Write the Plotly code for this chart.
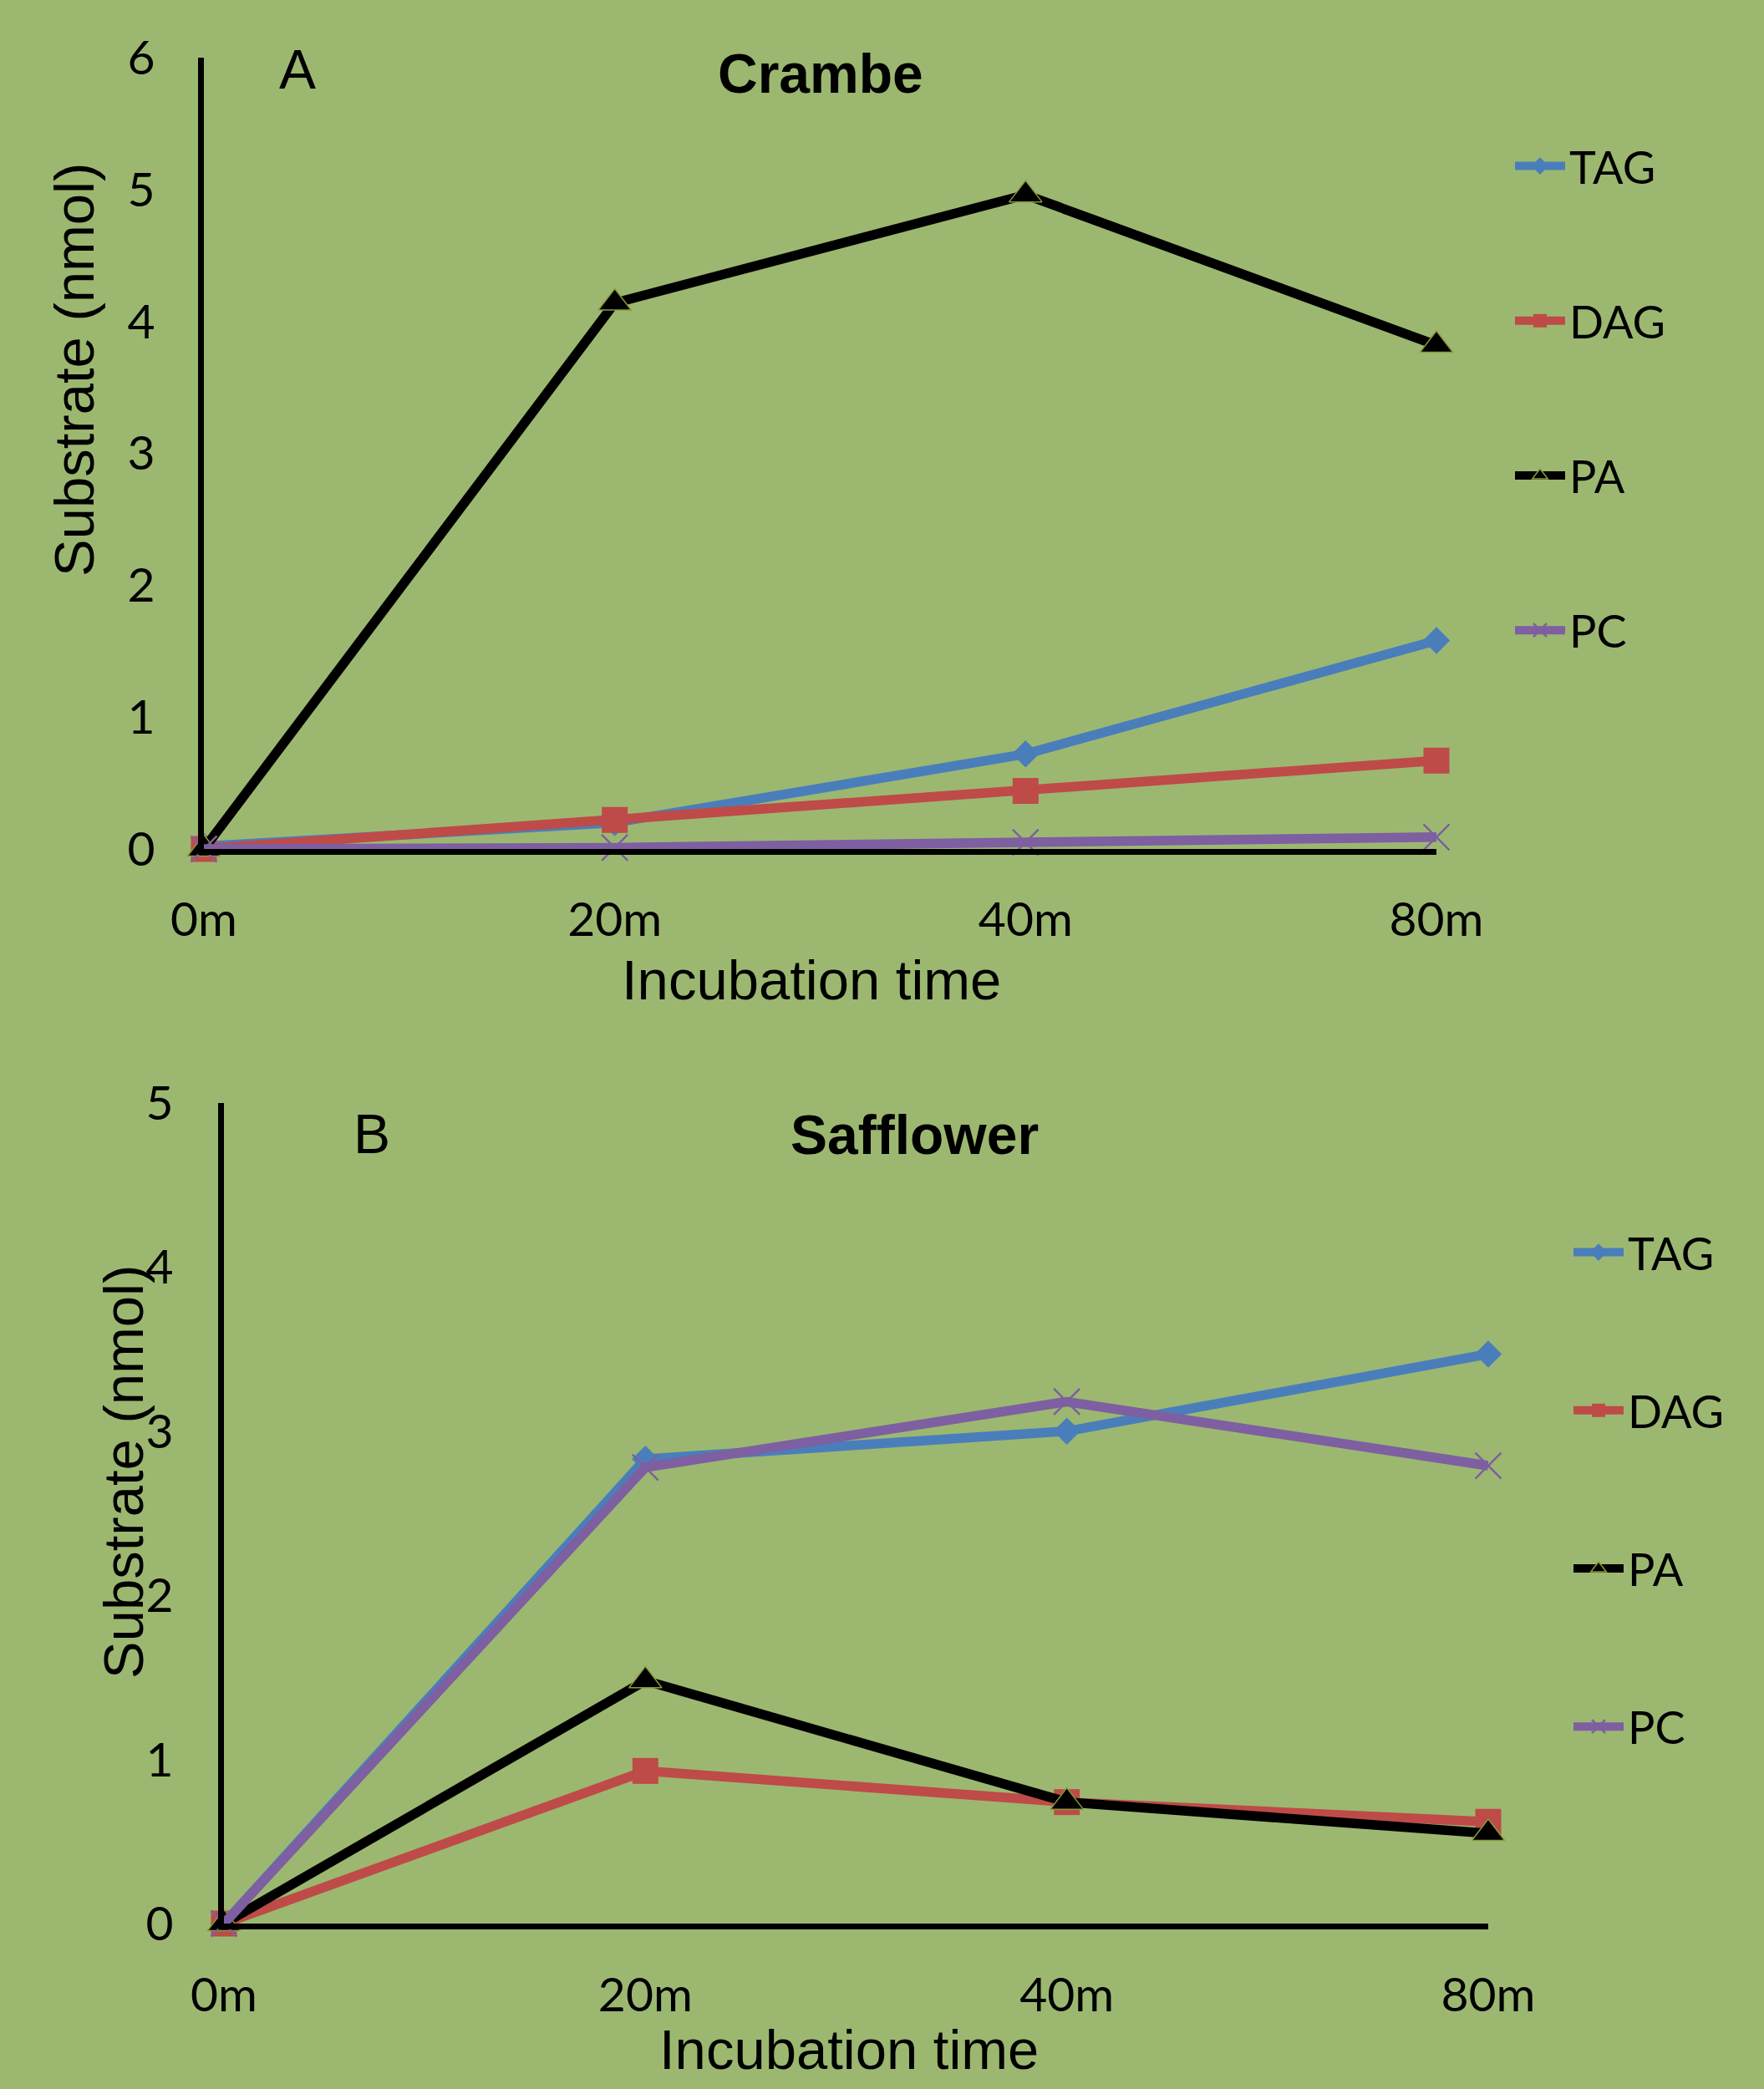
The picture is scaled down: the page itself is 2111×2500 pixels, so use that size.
import plotly.graph_objects as go

# ---- data ----
categories = ["0m", "20m", "40m", "80m"]
series_names = ["TAG", "DAG", "PA", "PC"]

crambe_tag = [0.02, 0.20, 0.72, 1.58]
crambe_dag = [0.00, 0.22, 0.44, 0.67]
crambe_pa = [0.00, 4.14, 4.96, 3.82]
crambe_pc = [0.00, 0.01, 0.05, 0.09]

safflower_tag = [0.00, 2.83, 3.00, 3.47]
safflower_dag = [0.00, 0.93, 0.74, 0.62]
safflower_pa = [0.00, 1.48, 0.74, 0.55]
safflower_pc = [0.00, 2.78, 3.18, 2.79]

yticks_top = [0, 1, 2, 3, 4, 5, 6]
yticks_bottom = [0, 1, 2, 3, 4, 5]

# ---- styles ----
W, H = 2111, 2500
BG = "rgb(156,184,112)"
TICK_FONT = "Lato, 'Open Sans', sans-serif"
ARIAL = "'Liberation Sans', Arial, sans-serif"
colors = {"TAG": "#4A7EBB", "DAG": "#BE4B48", "PA": "#000000", "PC": "#7E5FA1"}
symbols = {"TAG": "diamond", "DAG": "square", "PA": "triangle-up", "PC": "x-thin"}
msizes = {"TAG": 25, "DAG": 31, "PA": 34, "PC": 31}

def px_x(p):
    return p / W

def px_y(p):
    return (H - p) / H

fig = go.Figure()

panels = [
    ("x", "y", "legend", [crambe_tag, crambe_dag, crambe_pa, crambe_pc]),
    ("x2", "y2", "legend2", [safflower_tag, safflower_dag, safflower_pa, safflower_pc]),
]
for xa, ya, lg, vals in panels:
    for name, v in zip(series_names, vals):
        c = colors[name]
        if name == "PC":
            mline = dict(width=2.5, color=c)
        elif name == "PA":
            mline = dict(width=1.5, color="#8a9a3a")
        else:
            mline = dict(width=0, color=c)
        marker = dict(symbol=symbols[name], size=msizes[name], color=c, line=mline)
        fig.add_trace(go.Scatter(
            x=categories, y=v, name=name, mode="lines+markers",
            line=dict(color=c, width=11.5), marker=marker,
            xaxis=xa, yaxis=ya, legend=lg, legendgroup=lg + name,
            cliponaxis=False, showlegend=True,
        ))

axis_common = dict(
    showgrid=False, zeroline=False, showline=True, linecolor="black", linewidth=7,
    ticks="", automargin=False,
    tickfont=dict(family=TICK_FONT, size=57, color="black"),
)

fig.update_layout(
    template="none",
    width=W, height=H, paper_bgcolor=BG, plot_bgcolor=BG,
    margin=dict(l=0, r=0, t=0, b=0, pad=0, autoexpand=False),
    showlegend=True,
    xaxis=dict(domain=[px_x(244), px_x(1719)], anchor="y", type="category",
               categoryorder="array", categoryarray=categories, range=[0, 3],
               ticklabelstandoff=29, **axis_common),
    yaxis=dict(domain=[px_y(1016), px_y(69)], anchor="x", range=[0, 6],
               tickvals=yticks_top, ticklabelstandoff=40, **axis_common),
    xaxis2=dict(domain=[px_x(268), px_x(1781)], anchor="y2", type="category",
                categoryorder="array", categoryarray=categories, range=[0, 3],
                ticklabelstandoff=30, **axis_common),
    yaxis2=dict(domain=[px_y(2302), px_y(1320)], anchor="x2", range=[0, 5],
                tickvals=yticks_bottom, ticklabelstandoff=42, **axis_common),
    legend=dict(x=px_x(1808), y=px_y(157), xanchor="left", yanchor="top",
                bgcolor="rgba(0,0,0,0)", font=dict(family=TICK_FONT, size=54, color="black"),
                tracegroupgap=112, itemwidth=60),
    legend2=dict(x=px_x(1878), y=px_y(1457), xanchor="left", yanchor="top",
                 bgcolor="rgba(0,0,0,0)", font=dict(family=TICK_FONT, size=54, color="black"),
                 tracegroupgap=116, itemwidth=60),
)

annotations = [
    dict(text="<b>Crambe</b>", x=px_x(982), y=px_y(88), font=dict(family=ARIAL, size=66)),
    dict(text="A", x=px_x(356), y=px_y(83), font=dict(family=ARIAL, size=66)),
    dict(text="Incubation time", x=px_x(971), y=px_y(1172), font=dict(family=ARIAL, size=67)),
    dict(text="Substrate (nmol)", x=px_x(88), y=px_y(443), textangle=-90, font=dict(family=ARIAL, size=67)),
    dict(text="<b>Safflower</b>", x=px_x(1094), y=px_y(1358), font=dict(family=ARIAL, size=66)),
    dict(text="B", x=px_x(445), y=px_y(1357), font=dict(family=ARIAL, size=66)),
    dict(text="Incubation time", x=px_x(1016), y=px_y(2452), font=dict(family=ARIAL, size=67)),
    dict(text="Substrate (nmol)", x=px_x(147), y=px_y(1762), textangle=-90, font=dict(family=ARIAL, size=67)),
]
for a in annotations:
    a.update(xref="paper", yref="paper", xanchor="center", yanchor="middle", showarrow=False)
    a["font"]["color"] = "black"
fig.update_layout(annotations=annotations)

fig.write_html("out.html", config={"displayModeBar": False},
               post_script="document.body.style.margin='0';")
